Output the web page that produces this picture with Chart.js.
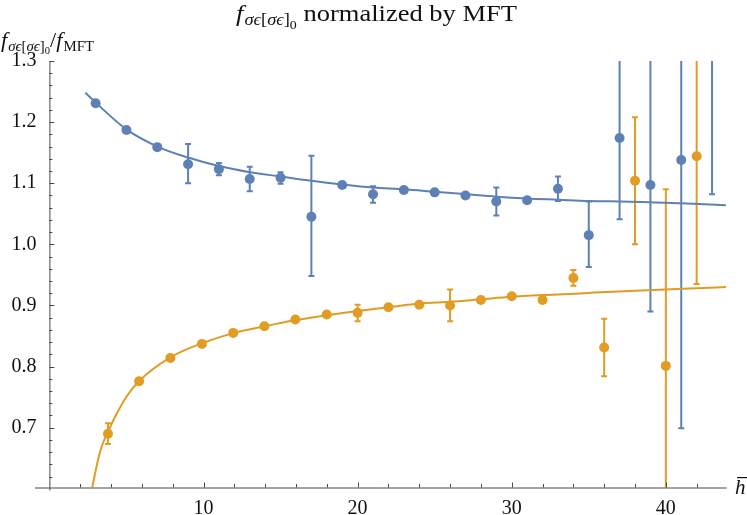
<!DOCTYPE html>
<html>
<head>
<meta charset="utf-8">
<script src="https://cdn.jsdelivr.net/npm/chart.js@4/dist/chart.umd.min.js"></script>
<style>
  html, body { margin: 0; padding: 0; background: #fff; }
  #wrap { width: 747px; height: 515px; }
</style>
</head>
<body>
<div id="wrap"><canvas id="c" width="747" height="515"></canvas></div>
<script>
// tick positions
const xTicks = [10, 20, 30, 40];
const xMinor = [2, 4, 6, 8, 12, 14, 16, 18, 22, 24, 26, 28, 32, 34, 36, 38, 42];
const yTicks = [0.7, 0.8, 0.9, 1.0, 1.1, 1.2, 1.3];
const yMinor = [0.62, 0.64, 0.66, 0.68, 0.72, 0.74, 0.76, 0.78, 0.82, 0.84, 0.86, 0.88,
  0.92, 0.94, 0.96, 0.98, 1.02, 1.04, 1.06, 1.08, 1.12, 1.14, 1.16, 1.18, 1.22, 1.24, 1.26, 1.28];

// blue data (odd h)
const blueH   = [3, 5, 7, 9, 11, 13, 15, 17, 19, 21, 23, 25, 27, 29, 31, 33, 35, 37, 39, 41, 43];
const blueVal = [1.231, 1.187, 1.159, 1.131, 1.123, 1.107, 1.109, 1.045, 1.097, 1.082, 1.089,
  1.085, 1.080, 1.070, 1.072, 1.091, 1.015, 1.174, 1.097, 1.138, 1.45];
const blueLo  = [null, null, null, 1.100, 1.113, 1.087, 1.099, 0.948, null, 1.068, null,
  null, 1.076, 1.047, null, 1.071, 0.963, 1.041, 0.890, 0.699, 1.082];
const blueHi  = [null, null, null, 1.164, 1.133, 1.127, 1.118, 1.145, null, 1.095, null,
  null, 1.084, 1.093, null, 1.111, 1.070, 1.40, 1.35, 1.60, 1.85];

// orange data (even h)
const orangeH   = [3.8, 5.82, 7.85, 9.9, 11.93, 13.95, 15.96, 18, 20, 22, 24, 26, 28, 30,
  32, 34, 36, 38, 40, 42];
const orangeVal = [0.690, 0.776, 0.814, 0.837, 0.855, 0.866, 0.877, 0.885, 0.888, 0.897,
  0.901, 0.900, 0.909, 0.915, 0.909, 0.945, 0.831, 1.104, 0.801, 1.144];
const orangeLo  = [0.673, null, null, null, null, null, null, null, 0.874, null,
  null, 0.874, null, null, null, 0.932, 0.784, 1.000, 0.40, 0.935];
const orangeHi  = [0.707, null, null, null, null, null, null, null, 0.901, null,
  null, 0.926, null, null, null, 0.958, 0.878, 1.208, 1.090, 1.50];

// fit curves
const blueFitH = [2.33, 3, 5, 7, 9, 11, 13, 15, 17, 19, 21, 23, 25, 27, 29, 31, 33, 35, 37, 39, 41, 43.9];
const blueFitV = [1.248, 1.232, 1.188, 1.160, 1.142, 1.128, 1.118, 1.111, 1.104, 1.098, 1.093,
  1.090, 1.086, 1.082, 1.078, 1.075, 1.073, 1.071, 1.070, 1.069, 1.067, 1.064];
const orangeFitH = [2.78, 3.11, 3.39, 3.78, 4.37, 5.01, 5.81, 7.85, 9.9, 12, 14, 16, 18, 20,
  22, 24, 26, 28, 30, 32, 34, 36, 38, 40, 42, 43.9];
const orangeFitV = [0.602, 0.642, 0.669, 0.692, 0.723, 0.751, 0.776, 0.815, 0.838, 0.855,
  0.866, 0.876, 0.884, 0.891, 0.897, 0.903, 0.906, 0.910, 0.914, 0.917, 0.919, 0.922,
  0.924, 0.926, 0.928, 0.930];

const BLUE = '#5E81B5';
const ORANGE = '#E19C24';
const AXIS = '#4a4a4a';
const SERIF = '"Liberation Serif", "DejaVu Serif", serif';

function pts(xs, ys) { return xs.map((x, i) => ({ x: x, y: ys[i] })); }

// error bars with caps, drawn through the chart scales
const errorBars = {
  id: 'errorBars',
  beforeDatasetsDraw(chart) {
    const { ctx, chartArea, scales } = chart;
    ctx.save();
    ctx.beginPath();
    ctx.rect(chartArea.left, chartArea.top, chartArea.right - chartArea.left, chartArea.bottom - chartArea.top);
    ctx.clip();
    chart.data.datasets.forEach(ds => {
      if (!ds.errLo) return;
      ctx.strokeStyle = ds.backgroundColor;
      ctx.lineWidth = 2;
      ds.data.forEach((p, i) => {
        if (ds.errLo[i] == null) return;
        const x = scales.x.getPixelForValue(p.x);
        const y1 = scales.y.getPixelForValue(ds.errLo[i]);
        const y2 = scales.y.getPixelForValue(ds.errHi[i]);
        ctx.beginPath();
        ctx.moveTo(x, y1);
        ctx.lineTo(x, y2);
        [y1, y2].forEach(y => {
          if (y > chartArea.top + 1 && y < chartArea.bottom - 1) {
            ctx.moveTo(x - 3, y);
            ctx.lineTo(x + 3, y);
          }
        });
        ctx.stroke();
      });
    });
    ctx.restore();
  }
};

// text runs (TeX-like sub/superscripts), stretched to span x0..x1
function drawRunsFit(ctx, x0, x1, y, runs) {
  let w = 0;
  runs.forEach(r => { ctx.font = r.font; w += ctx.measureText(r.text).width + (r.gap || 0); });
  ctx.save();
  ctx.translate(x0, y);
  ctx.scale((x1 - x0) / w, 1);
  let x = 0;
  runs.forEach(r => {
    ctx.font = r.font;
    ctx.fillText(r.text, x, r.dy || 0);
    x += ctx.measureText(r.text).width + (r.gap || 0);
  });
  ctx.restore();
}

const axesAndText = {
  id: 'axesAndText',
  afterDraw(chart) {
    const { ctx, chartArea, scales } = chart;
    const L = chartArea.left, B = chartArea.bottom, T = chartArea.top, R = chartArea.right;
    ctx.save();
    ctx.strokeStyle = AXIS;
    ctx.lineWidth = 1;
    ctx.beginPath();
    ctx.moveTo(35, B + 0.5); ctx.lineTo(R, B + 0.5);
    ctx.moveTo(L + 0.5, T); ctx.lineTo(L + 0.5, B + 3);
    xTicks.forEach(v => { const px = Math.round(scales.x.getPixelForValue(v)) + 0.5; ctx.moveTo(px, B); ctx.lineTo(px, B - 5); });
    xMinor.forEach(v => { const px = Math.round(scales.x.getPixelForValue(v)) + 0.5; ctx.moveTo(px, B); ctx.lineTo(px, B - 3.5); });
    yTicks.forEach(v => { const py = Math.round(scales.y.getPixelForValue(v)) + 0.5; ctx.moveTo(L, py); ctx.lineTo(L + 5, py); });
    yMinor.forEach(v => { const py = Math.round(scales.y.getPixelForValue(v)) + 0.5; ctx.moveTo(L, py); ctx.lineTo(L + 3, py); });
    ctx.stroke();

    ctx.fillStyle = '#111';
    ctx.textBaseline = 'alphabetic';
    ctx.textAlign = 'left';
    // title
    const big = '23px ' + SERIF, itBig = 'italic 23px ' + SERIF;
    const sub = 'italic 16px ' + SERIF, subUp = '16px ' + SERIF, sub2 = '12px ' + SERIF;
    drawRunsFit(ctx, 236, 517, 21, [
      { text: 'f', font: itBig, gap: 1 },
      { text: 'σϵ', font: sub, dy: 4 },
      { text: '[', font: subUp, dy: 4 },
      { text: 'σϵ', font: sub, dy: 4 },
      { text: ']', font: subUp, dy: 4 },
      { text: '0', font: sub2, dy: 8 },
      { text: ' normalized by MFT', font: big }
    ]);
    // y-axis label
    const itL = 'italic 21px ' + SERIF;
    const sL = 'italic 14px ' + SERIF, sLu = '14px ' + SERIF, sL2 = '10px ' + SERIF;
    drawRunsFit(ctx, 1, 94, 47, [
      { text: 'f', font: itL, gap: 1 },
      { text: 'σϵ', font: sL, dy: 4 },
      { text: '[', font: sLu, dy: 4 },
      { text: 'σϵ', font: sL, dy: 4 },
      { text: ']', font: sLu, dy: 4 },
      { text: '0', font: sL2, dy: 7 },
      { text: '/', font: '21px ' + SERIF },
      { text: 'f', font: itL, gap: 1 },
      { text: 'MFT', font: sLu, dy: 4 }
    ]);
    // x-axis label h with bar
    ctx.font = 'italic 21px ' + SERIF;
    ctx.fillText('h', 735, 494);
    ctx.fillRect(737, 477, 10, 1.2);
    ctx.restore();
  }
};

new Chart(document.getElementById('c'), {
  data: {
    datasets: [
      { type: 'line', data: pts(blueFitH, blueFitV), borderColor: BLUE, borderWidth: 2,
        pointRadius: 0, cubicInterpolationMode: 'monotone', order: 2 },
      { type: 'line', data: pts(orangeFitH, orangeFitV), borderColor: ORANGE, borderWidth: 2,
        pointRadius: 0, cubicInterpolationMode: 'monotone', order: 2 },
      { type: 'scatter', data: pts(blueH, blueVal), backgroundColor: BLUE, borderWidth: 0,
        pointRadius: 5, errLo: blueLo, errHi: blueHi, order: 1 },
      { type: 'scatter', data: pts(orangeH, orangeVal), backgroundColor: ORANGE, borderWidth: 0,
        pointRadius: 5, errLo: orangeLo, errHi: orangeHi, order: 1 }
    ]
  },
  options: {
    responsive: false,
    animation: false,
    layout: { padding: { top: 61, right: 20.3, left: 0, bottom: 0 } },
    plugins: { legend: { display: false }, tooltip: { enabled: false }, title: { display: false } },
    scales: {
      x: {
        type: 'linear', min: 0, max: 43.95,
        grid: { display: false }, border: { display: false },
        afterBuildTicks: s => { s.ticks = xTicks.map(v => ({ value: v })); },
        afterFit: s => { s.height = 27.5; },
        ticks: { color: '#111', padding: 1, maxRotation: 0, font: { family: SERIF, size: 20 },
          callback: v => String(v) }
      },
      y: {
        type: 'linear', min: 0.602, max: 1.3,
        grid: { display: false }, border: { display: false },
        afterBuildTicks: s => { s.ticks = yTicks.map(v => ({ value: v })); },
        afterFit: s => { s.width = 49.4; },
        ticks: { color: '#111', padding: 5, font: { family: SERIF, size: 20 },
          callback: v => v.toFixed(1) }
      }
    }
  },
  plugins: [errorBars, axesAndText]
});
</script>
</body>
</html>
